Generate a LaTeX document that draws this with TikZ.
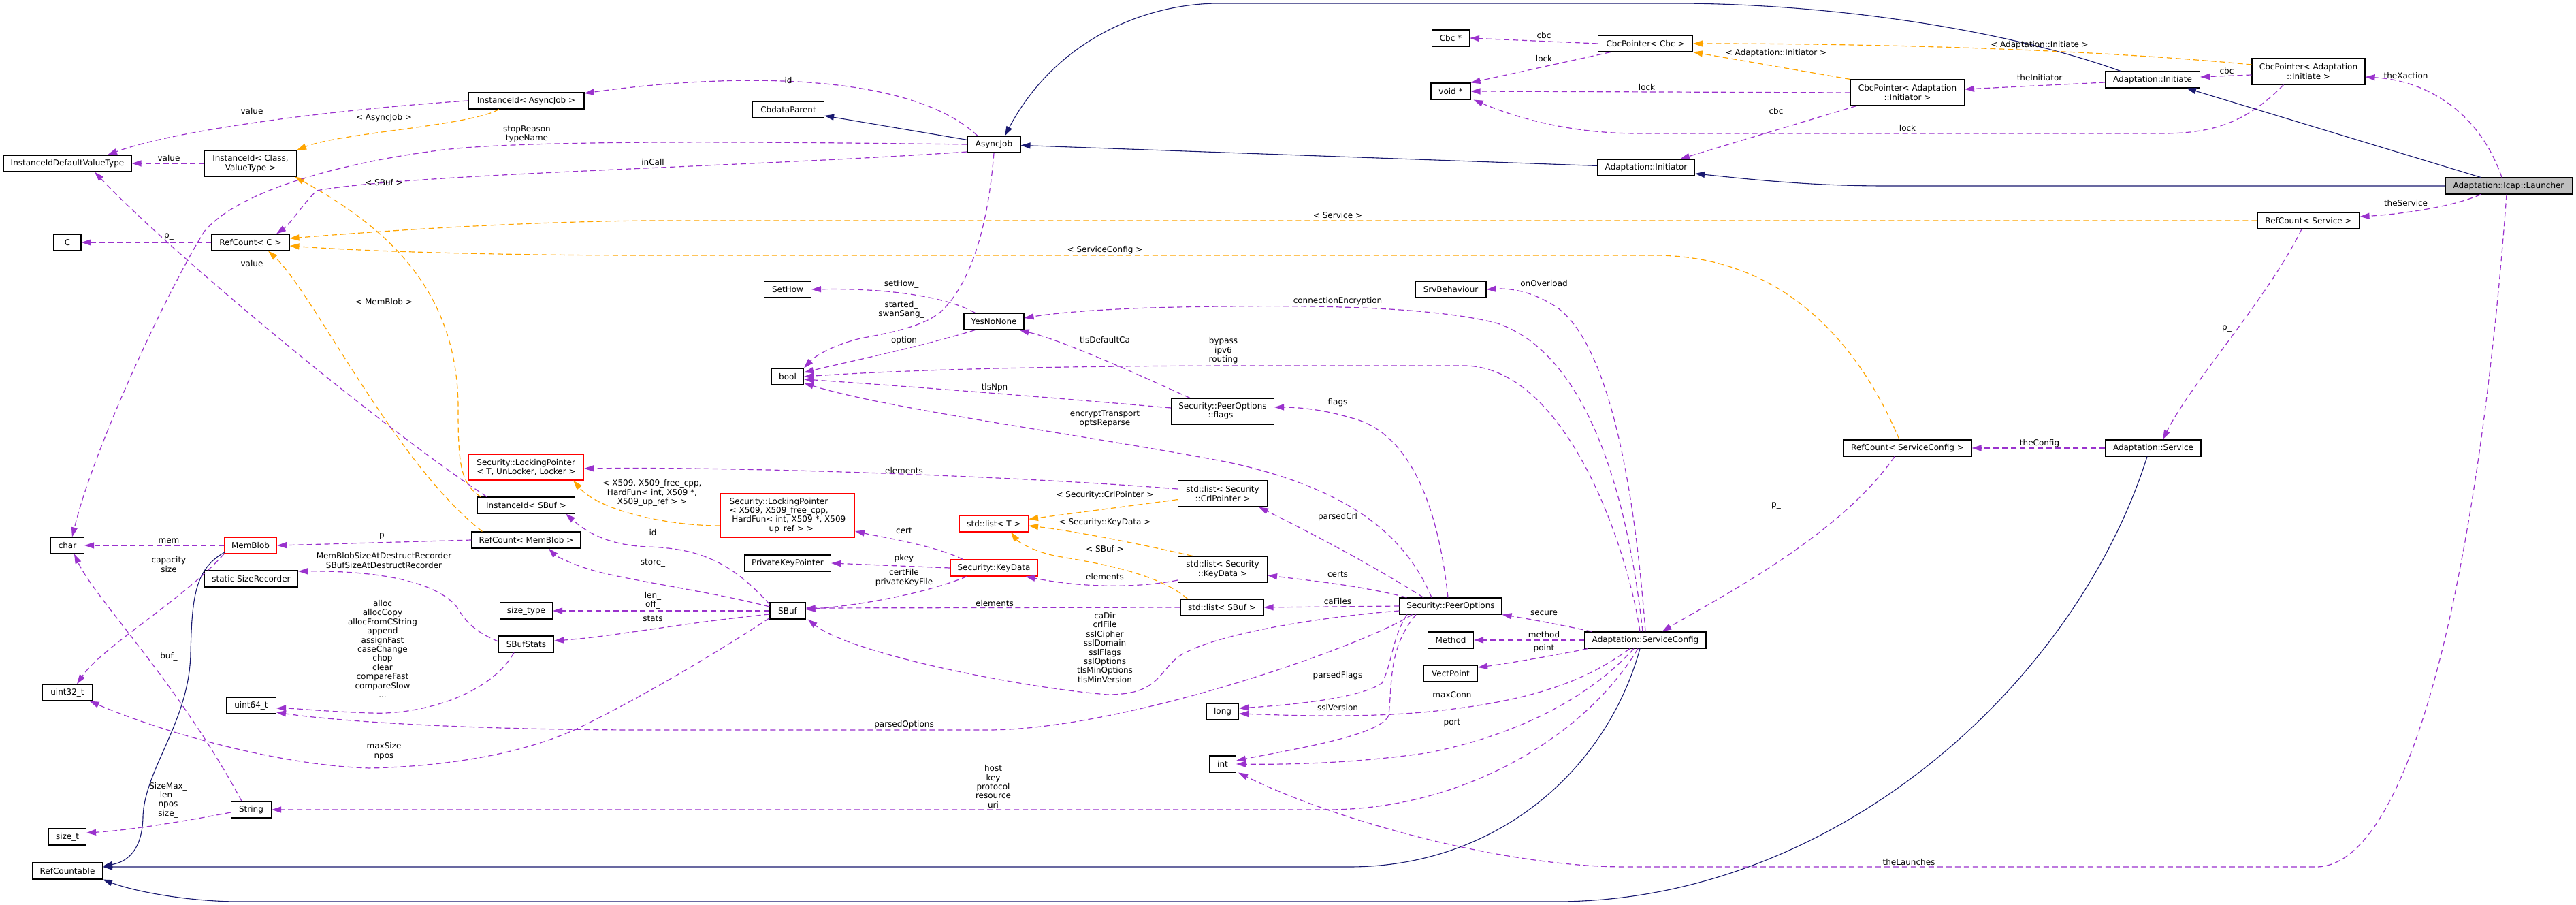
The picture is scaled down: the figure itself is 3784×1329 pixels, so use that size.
\documentclass[tikz,border=0pt]{standalone}
\usepackage{fontspec}
\setmainfont{DejaVu Sans}
\usetikzlibrary{arrows.meta,calc}
\definecolor{inhc}{HTML}{191970}
\definecolor{memc}{HTML}{9A32CD}
\definecolor{tplc}{HTML}{FFA500}
\definecolor{redc}{HTML}{FF0000}
\definecolor{grayc}{HTML}{BFBFBF}
\newcommand{\lblfont}{\fontsize{12}{13.4}\selectfont}
\begin{document}
\begin{tikzpicture}[x=1pt,y=-1pt,
 cls/.style={draw=black,line width=1.1pt,fill=white,minimum height=24pt,inner xsep=2pt,inner ysep=2pt,font=\lblfont,align=center},
 two/.style={minimum height=38pt},
 four/.style={minimum height=64pt},
 redb/.style={draw=redc},
 lab/.style={font=\lblfont,align=center,inner sep=0pt},
 arr/.style={-{Triangle[length=14pt,width=9pt]}},
 inh/.style={arr,draw=inhc,line width=1.1pt},
 mem/.style={arr,draw=memc,line width=1.2pt,dash pattern=on 8pt off 5pt},
 tpl/.style={arr,draw=tplc,line width=1.2pt,dash pattern=on 8pt off 5pt}]
\fill[white] (0,0) rectangle (3784,1329);
\useasboundingbox (0,0) rectangle (3784,1329);

% nodes
\node[cls,minimum width=188pt] (idv) at (99,240) {InstanceIdDefaultValueType};
\node[cls,two,minimum width=135pt] (idcv) at (368,240) {InstanceId< Class,\\ValueType >};
\node[cls,minimum width=170pt] (idaj) at (773,148) {InstanceId< AsyncJob >};
\node[cls,minimum width=105pt] (cbdp) at (1158,161) {CbdataParent};
\node[cls,minimum width=78pt] (aj) at (1460,212) {AsyncJob};
\node[cls,minimum width=40pt] (cC) at (99,356) {C};
\node[cls,minimum width=114pt] (rcC) at (368,356) {RefCount< C >};
\node[cls,minimum width=69pt] (sethow) at (1157,425) {SetHow};
\node[cls,minimum width=88pt] (ynn) at (1460,472) {YesNoNone};
\node[cls,minimum width=47pt] (bool) at (1157,553) {bool};
\node[cls,minimum width=55pt] (cbcs) at (2131,56) {Cbc *};
\node[cls,minimum width=139pt] (cbcpc) at (2417,64) {CbcPointer< Cbc >};
\node[cls,minimum width=58pt] (voids) at (2131,134) {void *};
\node[cls,minimum width=143pt] (initiator) at (2418,246) {Adaptation::Initiator};
\node[cls,minimum width=104pt] (srvb) at (2131,425) {SrvBehaviour};
\node[cls,two,minimum width=167pt] (cbcpir) at (2802,136) {CbcPointer< Adaptation\\::Initiator >};
\node[cls,minimum width=139pt] (initiate) at (3162,117) {Adaptation::Initiate};
\node[cls,two,minimum width=166pt] (cbcpie) at (3391,105) {CbcPointer< Adaptation\\::Initiate >};
\node[cls,fill=grayc,minimum width=186pt] (launcher) at (3685,273) {Adaptation::Icap::Launcher};
\node[cls,minimum width=150pt] (rcsvc) at (3391,324) {RefCount< Service >};
\node[cls,minimum width=188pt] (rcsc) at (2802,658) {RefCount< ServiceConfig >};
\node[cls,minimum width=140pt] (svc) at (3163,658) {Adaptation::Service};
\node[cls,two,minimum width=151pt] (flags) at (1796,604) {Security::PeerOptions\\::flags\_};
\node[cls,two,redb,align=left,minimum width=169pt] (lpT) at (773,686) {Security::LockingPointer\\< T, UnLocker, Locker >};
\node[cls,two,minimum width=131pt] (lcrl) at (1796,725) {std::list< Security\\::CrlPointer >};
\node[cls,four,redb,align=left,minimum width=197pt] (lpX) at (1157,757) {Security::LockingPointer\\< X509, X509\_free\_cpp,\\\hspace*{3.6pt}HardFun< int, X509 *, X509\\\hspace*{52pt}\_up\_ref > >};
\node[cls,redb,minimum width=101pt] (stdlT) at (1460,769) {std::list< T >};
\node[cls,minimum width=127pt] (pkp) at (1157,827) {PrivateKeyPointer};
\node[cls,redb,minimum width=128pt] (kd) at (1460,834) {Security::KeyData};
\node[cls,two,minimum width=131pt] (lkd) at (1796,836) {std::list< Security\\::KeyData >};
\node[cls,minimum width=52pt] (sbuf) at (1157,897) {SBuf};
\node[cls,minimum width=122pt] (lsbuf) at (1795,892) {std::list< SBuf >};
\node[cls,minimum width=150pt] (po) at (2131,890) {Security::PeerOptions};
\node[cls,minimum width=143pt] (idsbuf) at (773,742) {InstanceId< SBuf >};
\node[cls,minimum width=160pt] (rcmb) at (773,793) {RefCount< MemBlob >};
\node[cls,minimum width=49pt] (char) at (99,801) {char};
\node[cls,redb,minimum width=77pt] (memblob) at (368,801) {MemBlob};
\node[cls,minimum width=137pt] (ssr) at (369,850) {static SizeRecorder};
\node[cls,minimum width=77pt] (sizetype) at (773,897) {size\_type};
\node[cls,minimum width=81pt] (sbufstats) at (773,946) {SBufStats};
\node[cls,minimum width=74pt] (u32) at (99,1017) {uint32\_t};
\node[cls,minimum width=73pt] (u64) at (369,1036) {uint64\_t};
\node[cls,minimum width=59pt] (string) at (369,1189) {String};
\node[cls,minimum width=55pt] (sizet) at (99,1229) {size\_t};
\node[cls,minimum width=103pt] (rcable) at (99,1279) {RefCountable};
\node[cls,minimum width=47pt] (long) at (1796,1045) {long};
\node[cls,minimum width=39pt] (int) at (1796,1122) {int};
\node[cls,minimum width=67pt] (method) at (2131,940) {Method};
\node[cls,minimum width=178pt] (sc) at (2417,940) {Adaptation::ServiceConfig};
\node[cls,minimum width=79pt] (vp) at (2131,989) {VectPoint};

% inheritance
\draw[inh] (aj) -- (cbdp);
\draw[inh] (initiator) -- (aj);
\draw[inh] ($(initiate.north)+(-47,0)$) .. controls (2950,45) and (2700,6) .. (2467,5) -- (1791,5) .. controls (1680,5) and (1550,60) .. ($(aj.north)+(16,0)$);
\draw[inh] ($(launcher.north)+(-41,0)$) -- ($(initiate.south)+(50,0)$);
\draw[inh] (launcher.west) -- (2769,273) .. controls (2650,273) and (2560,262) .. ($(initiator.east)+(0,9)$);
\draw[inh] ($(memblob.south west)+(2,-3)$) .. controls (285,835) and (282,880) .. (280,960) .. controls (278,1060) and (212,1130) .. (210,1200) .. controls (209,1245) and (190,1265) .. ($(rcable.east)+(0,-7)$);
\draw[inh] ($(sc.south)+(-8,0)$) .. controls (2360,1130) and (2200,1273) .. (1982,1273) -- ($(rcable.east)+(0,-6)$);
\draw[inh] ($(svc.south)+(-9,0)$) .. controls (3050,1000) and (2700,1324) .. (2285,1324) -- (351,1324) .. controls (280,1324) and (200,1310) .. (rcable.south east);

% templates
\draw[tpl] ($(idaj.south)+(-40,0)$) .. controls (690,185) and (500,195) .. (idcv.north east);
\draw[tpl] ($(idsbuf.north west)+(5,0)$) .. controls (676,710) and (673,680) .. (673,600) .. controls (673,420) and (560,330) .. ($(idcv.south east)+(-3,0)$);
\draw[tpl] (rcsvc.west) -- (950,324) .. controls (750,326) and (550,340) .. ($(rcC.east)+(0,-6)$);
\draw[tpl] ($(rcsc.north)+(-12,0)$) .. controls (2720,480) and (2600,375) .. (2430,375) -- (950,375) .. controls (750,375) and (550,370) .. ($(rcC.east)+(0,5)$);
\draw[tpl] ($(rcmb.north west)+(16,0)$) .. controls (580,680) and (460,430) .. ($(rcC.south)+(26,0)$);
\draw[tpl] (cbcpir.north west) -- (cbcpc.south east);
\draw[tpl] ($(cbcpie.west)+(0,-10)$) .. controls (3100,75) and (2800,64) .. (cbcpc.east);
\draw[tpl] ($(lpX.west)+(0,15)$) .. controls (980,772) and (880,750) .. ($(lpT.south east)+(-16,0)$);
\draw[tpl] (lcrl) -- (stdlT);
\draw[tpl] ($(lkd.north west)+(22,0)$) .. controls (1680,800) and (1580,780) .. ($(stdlT.east)+(0,3)$);
\draw[tpl] ($(lsbuf.north west)+(11,0)$) .. controls (1700,840) and (1600,825) .. (1560,818) .. controls (1520,812) and (1495,795) .. ($(stdlT.south)+(25,0)$);

% members
\draw[mem] (rcC.west) -- (cC.east);
\draw[mem] (idcv.west) -- (idv.east);
\draw[mem] (idaj.west) .. controls (500,160) and (260,190) .. ($(idv.north)+(59,0)$);
\draw[mem] ($(idsbuf.north west)+(14,0)$) .. controls (550,620) and (250,370) .. ($(idv.south)+(40,0)$);
\draw[mem] ($(aj.north)+(-24,0)$) .. controls (1330,100) and (1050,110) .. ($(idaj.east)+(0,-11)$);
\draw[mem] (aj.west) .. controls (1100,208) and (750,205) .. (636,222) .. controls (500,240) and (350,280) .. (300,340) .. controls (250,420) and (140,650) .. ($(char.north)+(7,0)$);
\draw[mem] ($(aj.west)+(0,11)$) .. controls (1100,245) and (600,255) .. (465,280) .. controls (445,300) and (425,330) .. ($(rcC.north)+(38,0)$);
\draw[mem] (aj.south) .. controls (1450,350) and (1420,420) .. (1385,455) .. controls (1360,480) and (1300,490) .. (1264,497) .. controls (1230,505) and (1200,520) .. (bool.north east);
\draw[mem] ($(ynn.north west)+(17,0)$) .. controls (1390,435) and (1300,423) .. (sethow.east);
\draw[mem] ($(ynn.south west)+(17,0)$) .. controls (1350,510) and (1250,530) .. ($(bool.east)+(0,-6)$);
\draw[mem] ($(flags.north west)+(28,0)$) .. controls (1650,540) and (1560,500) .. ($(ynn.south east)+(-7,0)$);
\draw[mem] ($(flags.west)+(0,-5)$) .. controls (1500,580) and (1300,565) .. ($(bool.east)+(0,4)$);
\draw[mem] ($(sc.north)+(-8,0)$) .. controls (2390,800) and (2300,540) .. (2152,537) -- (1850,537) .. controls (1500,537) and (1300,545) .. (bool.east);
\draw[mem] ($(sc.north)+(-4,0)$) .. controls (2390,720) and (2330,520) .. (2200,475) .. controls (2100,448) and (1900,449) .. (1800,450) .. controls (1650,451) and (1560,458) .. ($(ynn.east)+(0,-5)$);
\draw[mem] (sc.north) .. controls (2400,700) and (2360,500) .. (2285,450) .. controls (2250,428) and (2220,423) .. (srvb.east);
\draw[mem] ($(po.north)+(-4,0)$) .. controls (2110,720) and (2060,630) .. (1982,613) .. controls (1940,600) and (1900,598) .. ($(flags.east)+(0,-6)$);
\draw[mem] ($(po.north)+(-28,0)$) .. controls (2070,800) and (2000,720) .. (1800,678) .. controls (1600,640) and (1300,600) .. ($(bool.south east)+(0,-3)$);
\draw[mem] ($(po.north)+(-40,0)$) .. controls (2000,820) and (1900,770) .. ($(lcrl.south east)+(-13,0)$);
\draw[mem] ($(po.north west)+(11,0)$) .. controls (2000,860) and (1920,852) .. ($(lkd.east)+(0,9)$);
\draw[mem] (po.west) -- (lsbuf.east);
\draw[mem] ($(lcrl.west)+(0,-7)$) .. controls (1500,700) and (1100,685) .. ($(lpT.east)+(0,2)$);
\draw[mem] ($(lkd.west)+(0,16)$) .. controls (1680,862) and (1600,865) .. ($(kd.south east)+(-18,0)$);
\draw[mem] ($(kd.north west)+(19,0)$) .. controls (1370,800) and (1300,790) .. ($(lpX.east)+(0,23)$);
\draw[mem] (kd.west) -- (pkp.east);
\draw[mem] ($(kd.south west)+(25,0)$) .. controls (1350,875) and (1250,890) .. ($(sbuf.east)+(0,-2)$);
\draw[mem] (lsbuf.west) -- ($(sbuf.east)+(0,-4)$);
\draw[mem] ($(po.west)+(0,7)$) .. controls (1950,905) and (1780,930) .. (1730,965) .. controls (1700,990) and (1700,1020) .. (1627,1020) .. controls (1500,1010) and (1250,960) .. ($(sbuf.south east)+(3,0)$);
\draw[mem] ($(sc.north west)+(11,0)$) .. controls (2280,915) and (2240,908) .. (po.south east);
\draw[mem] (sc.west) -- (method.east);
\draw[mem] ($(sc.south west)+(5,0)$) .. controls (2270,965) and (2210,975) .. ($(vp.east)+(0,-9)$);
\draw[mem] ($(po.south)+(-64,0)$) .. controls (2045,935) and (2045,975) .. (2030,1003) .. controls (2000,1025) and (1900,1035) .. ($(long.east)+(0,-5)$);
\draw[mem] ($(sc.south)+(-23,0)$) .. controls (2330,1000) and (2250,1030) .. (2100,1045) .. controls (2000,1055) and (1880,1050) .. ($(long.east)+(0,3)$);
\draw[mem] ($(po.south)+(-51,0)$) .. controls (2040,950) and (2045,1000) .. (2040,1050) .. controls (2030,1080) and (1900,1100) .. ($(int.east)+(0,-5)$);
\draw[mem] ($(sc.south)+(-17,0)$) .. controls (2320,1040) and (2200,1085) .. (2100,1105) .. controls (2000,1120) and (1900,1123) .. (int.east);
\draw[mem] ($(sc.south)+(-11,0)$) .. controls (2330,1080) and (2150,1189) .. (1950,1189) -- (string.east);
\draw[mem] ($(launcher.south)+(-3,0)$) .. controls (3640,850) and (3540,1273) .. (3402,1273) -- (2388,1273) .. controls (2200,1273) and (1950,1200) .. ($(int.south east)+(3,0)$);
\draw[mem] ($(sbuf.north west)+(0,3)$) .. controls (1070,820) and (1020,805) .. (950,803) .. controls (890,800) and (860,780) .. ($(idsbuf.south east)+(-14,0)$);
\draw[mem] ($(sbuf.west)+(0,-6)$) .. controls (1050,870) and (940,855) .. (880,840) .. controls (840,830) and (815,815) .. ($(rcmb.south)+(33,0)$);
\draw[mem] (sbuf.west) -- (sizetype.east);
\draw[mem] ($(sbuf.west)+(0,5)$) .. controls (1000,915) and (900,935) .. ($(sbufstats.east)+(0,-5)$);
\draw[mem] ($(sbuf.south west)+(0,-2)$) .. controls (1050,960) and (950,1020) .. (848,1070) .. controls (760,1110) and (650,1125) .. (545,1128) .. controls (420,1125) and (250,1080) .. ($(u32.south east)+(-5,0)$);
\draw[mem] ($(string.north)+(-14,0)$) .. controls (260,1000) and (140,880) .. ($(char.south)+(10,0)$);
\draw[mem] (memblob.south west) .. controls (270,880) and (150,950) .. ($(u32.north)+(14,0)$);
\draw[mem] (memblob.west) -- (char.east);
\draw[mem] (rcmb.west) -- (memblob.east);
\draw[mem] ($(sbufstats.west)+(0,-4)$) .. controls (690,925) and (680,905) .. (670,890) .. controls (640,855) and (560,838) .. ($(ssr.east)+(0,-11)$);
\draw[mem] ($(sbufstats.south)+(-18,0)$) .. controls (720,1020) and (620,1050) .. (545,1047) .. controls (480,1045) and (430,1040) .. ($(u64.east)+(0,4)$);
\draw[mem] ($(po.south west)+(19,0)$) .. controls (2000,950) and (1650,1072) .. (1450,1072) -- (950,1072) .. controls (700,1072) and (500,1060) .. ($(u64.east)+(0,10)$);
\draw[mem] ($(string.west)+(0,4)$) .. controls (250,1210) and (180,1220) .. ($(sizet.east)+(0,-6)$);
\draw[mem] ($(launcher.north)+(-10,0)$) .. controls (3640,160) and (3560,118) .. ($(cbcpie.east)+(0,8)$);
\draw[mem] ($(launcher.south)+(-41,0)$) .. controls (3600,305) and (3520,315) .. ($(rcsvc.east)+(0,-6)$);
\draw[mem] ($(rcsvc.south)+(-10,0)$) .. controls (3330,440) and (3220,560) .. ($(svc.north)+(14,0)$);
\draw[mem] (svc.west) -- (rcsc.east);
\draw[mem] ($(rcsc.south)+(-19,0)$) .. controls (2700,790) and (2520,880) .. ($(sc.north east)+(-65,0)$);
\draw[mem] (cbcpc.west) -- (cbcs.east);
\draw[mem] ($(cbcpc.south west)+(19,0)$) -- (voids.north east);
\draw[mem] (cbcpir.west) -- (voids.east);
\draw[mem] ($(cbcpir.south west)+(9,0)$) -- ($(initiator.north east)+(-22,0)$);
\draw[mem] ($(cbcpie.south west)+(47,0)$) .. controls (3300,180) and (3250,196) .. (3177,196) -- (2406,196) .. controls (2300,196) and (2220,170) .. ($(voids.south east)+(4,0)$);
\draw[mem] ($(cbcpie.west)+(0,5)$) -- ($(initiate.east)+(0,-4)$);
\draw[mem] ($(initiate.west)+(0,4)$) -- ($(cbcpir.east)+(0,-5)$);

% labels
\node[lab] (l1) at (370,163) {value};
\node[lab] (l2) at (564,173) {< AsyncJob >};
\node[lab] (l3) at (774,197) {stopReason\\typeName};
\node[lab] (l4) at (248,232) {value};
\node[lab] (l5) at (564,268) {< SBuf >};
\node[lab] (l6) at (248,348) {p\_};
\node[lab] (l7) at (370,387) {value};
\node[lab] (l8) at (564,443) {< MemBlob >};
\node[lab] (l9) at (1158,118) {id};
\node[lab] (l10) at (959,238) {inCall};
\node[lab] (l11) at (1324,418) {setHow\_};
\node[lab] (l12) at (1324,455) {started\_\\swanSang\_};
\node[lab] (l13) at (1623,367) {< ServiceConfig >};
\node[lab] (l14) at (2268,52) {cbc};
\node[lab] (l15) at (2268,86) {lock};
\node[lab] (l16) at (2609,78) {< Adaptation::Initiator >};
\node[lab] (l17) at (2419,128) {lock};
\node[lab] (l18) at (2609,163) {cbc};
\node[lab] (l19) at (1965,316) {< Service >};
\node[lab] (l20) at (2268,416) {onOverload};
\node[lab] (l21) at (1965,442) {connectionEncryption};
\node[lab] (l22) at (2996,66) {< Adaptation::Initiate >};
\node[lab] (l23) at (3271,104) {cbc};
\node[lab] (l24) at (2996,114) {theInitiator};
\node[lab] (l25) at (3534,111) {theXaction};
\node[lab] (l26) at (2802,188) {lock};
\node[lab] (l27) at (3534,298) {theService};
\node[lab] (l28) at (3271,483) {p\_};
\node[lab] (l29) at (2996,651) {theConfig};
\node[lab] (l30) at (2609,743) {p\_};
\node[lab] (l31) at (1965,591) {flags};
\node[lab] (l32) at (1965,759) {parsedCrl};
\node[lab] (l33) at (1965,843) {certs};
\node[lab] (l34) at (1965,883) {caFiles};
\node[lab] (l35) at (2268,900) {secure};
\node[lab] (l36) at (1328,500) {option};
\node[lab] (l37) at (1623,499) {tlsDefaultCa};
\node[lab] (l38) at (1797,515) {bypass\\ipv6\\routing};
\node[lab] (l39) at (1461,569) {tlsNpn};
\node[lab] (l40) at (1623,615) {encryptTransport\\optsReparse};
\node[lab] (l41) at (1328,691) {elements};
\node[lab] (l42) at (958,724) {< X509, X509\_free\_cpp,\\HardFun< int, X509 *,\\X509\_up\_ref > >};
\node[lab] (l43) at (1623,727) {< Security::CrlPointer >};
\node[lab] (l44) at (1623,767) {< Security::KeyData >};
\node[lab] (l45) at (1328,779) {cert};
\node[lab] (l46) at (1623,806) {< SBuf >};
\node[lab] (l47) at (959,782) {id};
\node[lab] (l48) at (1328,820) {pkey};
\node[lab] (l49) at (1328,848) {certFile\\privateKeyFile};
\node[lab] (l50) at (1623,847) {elements};
\node[lab] (l51) at (959,827) {store\_};
\node[lab] (l52) at (959,882) {len\_\\off\_};
\node[lab] (l53) at (1461,886) {elements};
\node[lab] (l54) at (959,908) {stats};
\node[lab] (l55) at (1623,951) {caDir\\crlFile\\sslCipher\\sslDomain\\sslFlags\\sslOptions\\tlsMinOptions\\tlsMinVersion};
\node[lab] (l56) at (248,794) {mem};
\node[lab] (l57) at (564,788) {p\_};
\node[lab] (l58) at (248,829) {capacity\\size};
\node[lab] (l59) at (564,823) {MemBlobSizeAtDestructRecorder\\SBufSizeAtDestructRecorder};
\node[lab] (l60) at (562,953) {alloc\\allocCopy\\allocFromCString\\append\\assignFast\\caseChange\\chop\\clear\\compareFast\\compareSlow\\...};
\node[lab] (l61) at (248,964) {buf\_};
\node[lab] (l62) at (564,1103) {maxSize\\npos};
\node[lab] (l63) at (247,1175) {SizeMax\_\\len\_\\npos\\size\_};
\node[lab] (l64) at (1328,1064) {parsedOptions};
\node[lab] (l65) at (1459,1155) {host\\key\\protocol\\resource\\uri};
\node[lab] (l66) at (2268,932) {method};
\node[lab] (l67) at (2268,952) {point};
\node[lab] (l68) at (1965,992) {parsedFlags};
\node[lab] (l69) at (2133,1020) {maxConn};
\node[lab] (l70) at (1965,1039) {sslVersion};
\node[lab] (l71) at (2133,1062) {port};
\node[lab] (l72) at (2804,1266) {theLaunches};
\end{tikzpicture}
\end{document}
